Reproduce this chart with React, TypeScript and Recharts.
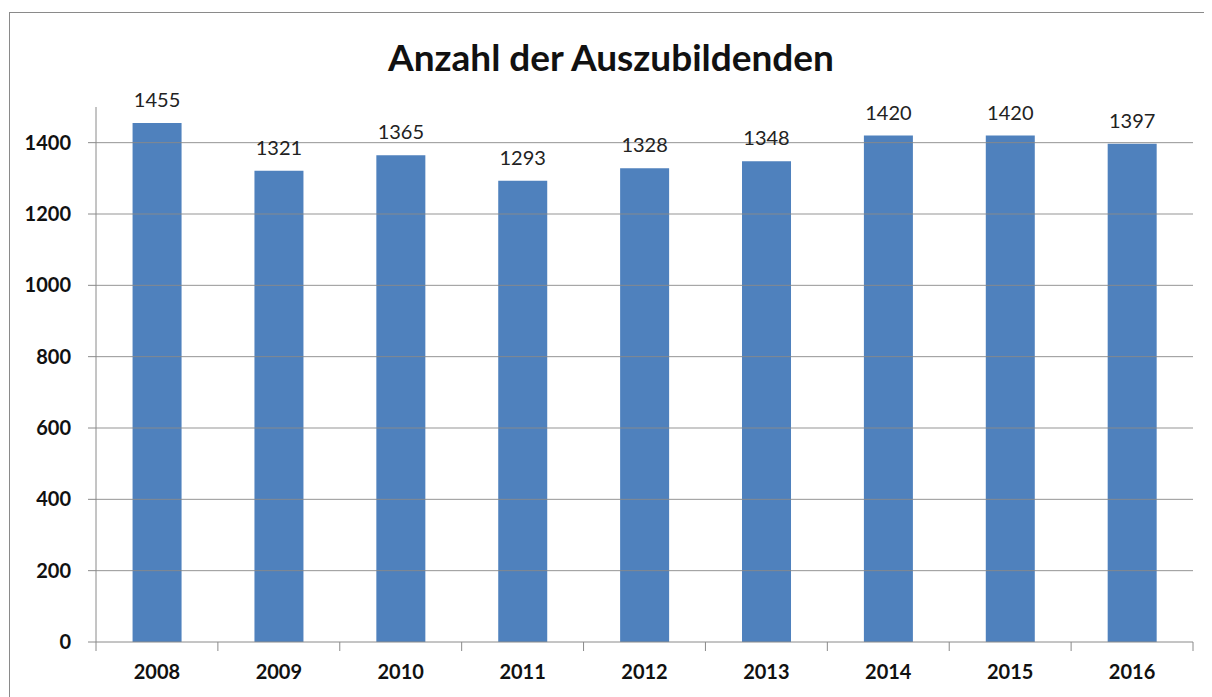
import React from 'react';
import { BarChart, Bar, XAxis, YAxis, ReferenceLine, LabelList } from 'recharts';

// Anzahl der Auszubildenden, 2008-2016
const years = ['2008', '2009', '2010', '2011', '2012', '2013', '2014', '2015', '2016'];
const trainees = [1455, 1321, 1365, 1293, 1328, 1348, 1420, 1420, 1397];
const yTicks = [0, 200, 400, 600, 800, 1000, 1200, 1400];

const data = years.map((year, i) => ({ year, value: trainees[i] }));

const FONT = 'Lato, "Open Sans", sans-serif';
const AXIS_GRAY = '#8a8a8a';

// category tick: boundary tick marks like Excel, label in the middle
function YearTick(props: any) {
  const { x, y, payload, index } = props;
  const half = payload?.offset ?? 0;
  const last = index === years.length - 1;
  return (
    <g>
      <line x1={x - half} y1={y} x2={x - half} y2={y + 9} stroke={AXIS_GRAY} />
      {last && <line x1={x + half} y1={y} x2={x + half} y2={y + 9} stroke={AXIS_GRAY} />}
      <text x={x} y={y + 37} textAnchor="middle" fill="#111" fontSize={20} fontWeight={700} fontFamily={FONT}>
        {payload.value}
      </text>
    </g>
  );
}

export default function App() {
  return (
    <div style={{ position: 'relative', width: 1212, height: 697, marginLeft: -8, marginTop: -8, background: '#fff', overflow: 'hidden' }}>
      <div
        style={{
          position: 'absolute',
          left: 9,
          top: 12,
          width: 1198,
          height: 700,
          borderTop: '1px solid #8a8a8a',
          borderLeft: '1px solid #8a8a8a',
          borderRight: '1px solid #d8d8d8',
        }}
      />
      <div
        style={{
          position: 'absolute',
          left: 0,
          top: 38,
          width: 1222,
          textAlign: 'center',
          fontFamily: FONT,
          fontWeight: 700,
          fontSize: 37,
          lineHeight: '38px',
          color: '#111',
        }}
      >
        Anzahl der Auszubildenden
      </div>
      <BarChart
        width={1212}
        height={697}
        data={data}
        margin={{ top: 107, right: 19, left: 0, bottom: 0 }}
        barCategoryGap="30%"
        style={{ position: 'absolute', left: 0, top: 0, fontFamily: FONT }}
      >
        {/* gridlines only at the major ticks */}
        {yTicks.slice(1).map((v) => (
          <ReferenceLine key={v} y={v} stroke={AXIS_GRAY} strokeOpacity={0.9} />
        ))}
        <XAxis
          dataKey="year"
          height={55}
          tickLine={false}
          tickSize={0}
          tickMargin={0}
          axisLine={{ stroke: AXIS_GRAY }}
          tick={<YearTick />}
          interval={0}
        />
        <YAxis
          width={96}
          domain={[0, 1500]}
          ticks={yTicks}
          tickSize={8}
          tickMargin={17}
          tickLine={{ stroke: AXIS_GRAY }}
          axisLine={{ stroke: AXIS_GRAY }}
          tick={{ fill: '#111', fontSize: 20, fontWeight: 700, fontFamily: FONT }}
        />
        <Bar dataKey="value" fill="#4F81BD" isAnimationActive={false}>
          <LabelList dataKey="value" position="top" offset={16} fill="#222" fontSize={20} fontFamily={FONT} />
        </Bar>
      </BarChart>
    </div>
  );
}
